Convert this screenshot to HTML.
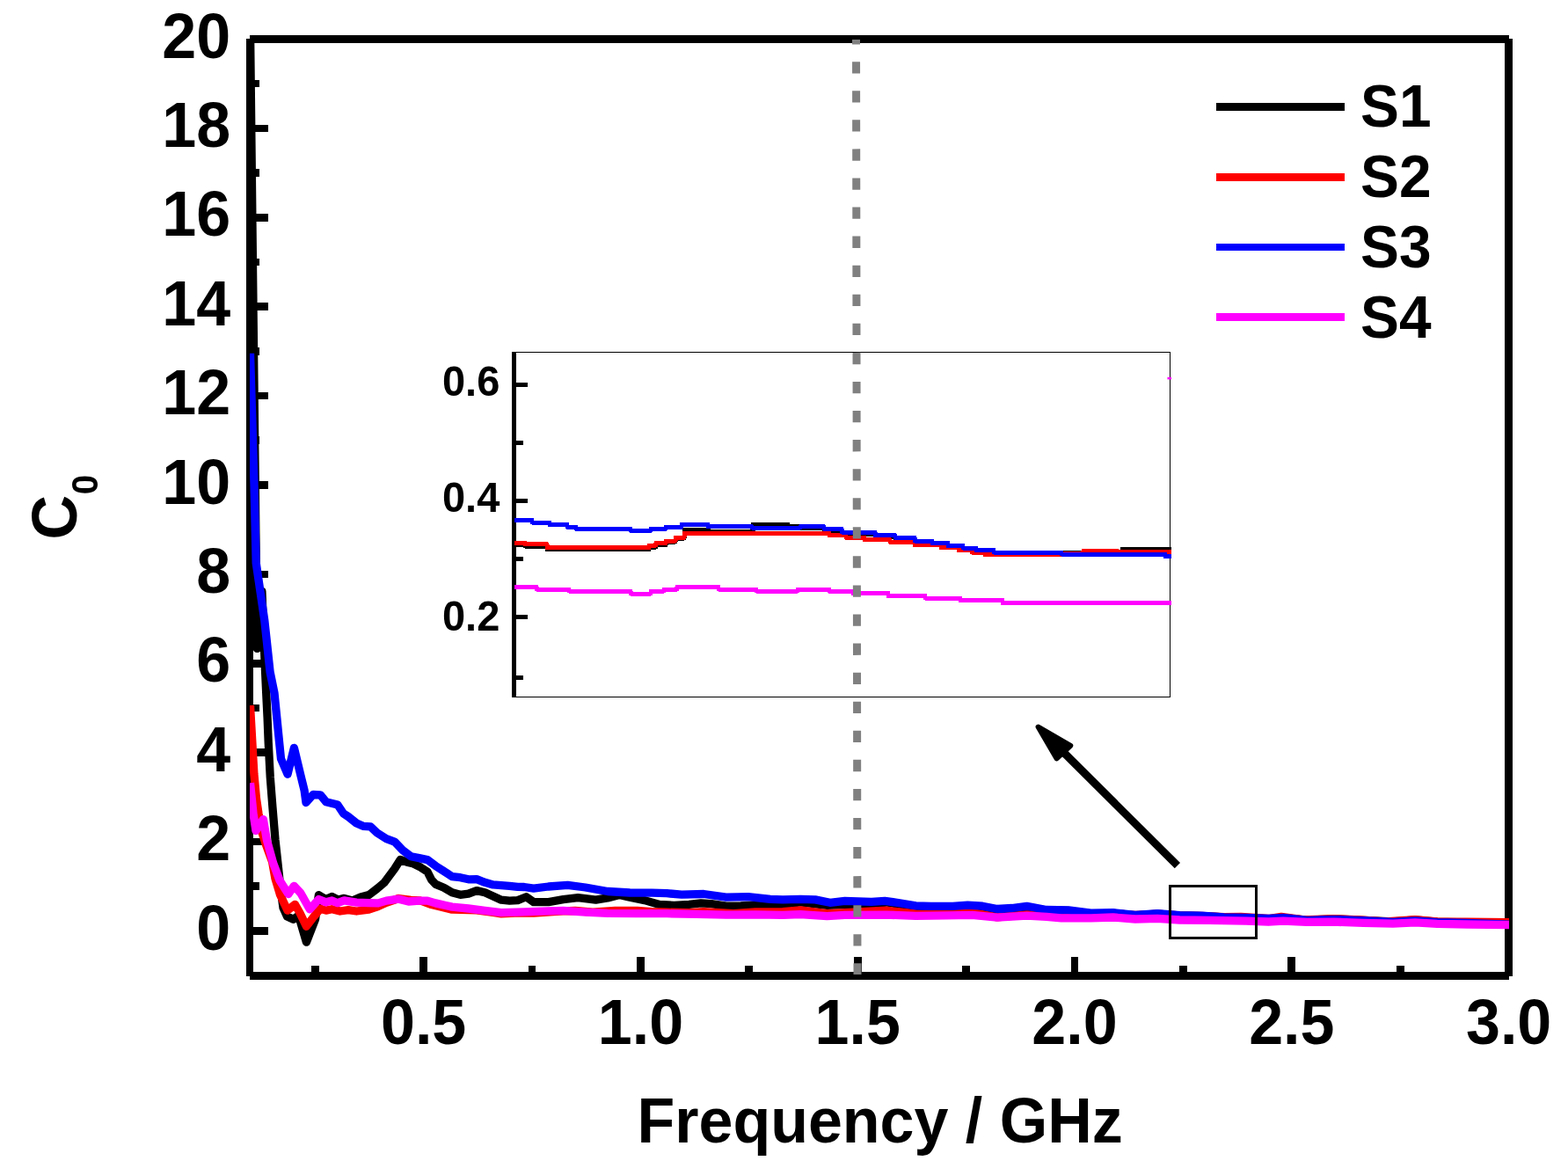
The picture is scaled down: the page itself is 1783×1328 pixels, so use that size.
<!DOCTYPE html>
<html lang="en"><head><meta charset="utf-8"><title>C0 versus Frequency</title>
<style>
html,body{margin:0;padding:0;background:#fff;}
body{width:1783px;height:1328px;overflow:hidden;}
svg{display:block;}
text{font-family:"Liberation Sans", Arial, Helvetica, sans-serif;font-weight:bold;fill:#000;}
.t{font-size:70px;}
.lg{font-size:65.8px;}
.in{font-size:47px;}
</style></head><body>
<svg width="1783" height="1328" viewBox="0 0 1783 1328">
<rect x="0" y="0" width="1783" height="1328" fill="#ffffff"/>
<defs>
<clipPath id="plot"><rect x="284.0" y="44.3" width="1432.0" height="1065"/></clipPath>
<clipPath id="dclip"><rect x="960" y="45" width="30" height="1063"/></clipPath>
<clipPath id="inset"><rect x="584.6" y="400.2" width="747.5" height="392.1"/></clipPath>
<filter id="soft" x="-5%" y="-5%" width="110%" height="110%"><feGaussianBlur stdDeviation="0.55"/></filter>
</defs>

<g fill="#000" stroke="none" shape-rendering="crispEdges">
<rect x="284.1" y="39.97" width="1431.82" height="8.73"/>
<rect x="284.1" y="1105.05" width="1431.82" height="8.81"/>
<rect x="280.03" y="44.2" width="7.95" height="1065.73"/>
<rect x="1711.09" y="44.18" width="8.81" height="1065.66"/>
<rect x="284" y="1054.10" width="21" height="8.6"/>
<rect x="284" y="1003.40" width="11" height="8.6"/>
<rect x="284" y="952.70" width="21" height="8.6"/>
<rect x="284" y="902.00" width="11" height="8.6"/>
<rect x="284" y="851.30" width="21" height="8.6"/>
<rect x="284" y="800.60" width="11" height="8.6"/>
<rect x="284" y="749.90" width="21" height="8.6"/>
<rect x="284" y="699.20" width="11" height="8.6"/>
<rect x="284" y="648.50" width="21" height="8.6"/>
<rect x="284" y="597.80" width="11" height="8.6"/>
<rect x="284" y="547.10" width="21" height="8.6"/>
<rect x="284" y="496.40" width="11" height="8.6"/>
<rect x="284" y="445.70" width="21" height="8.6"/>
<rect x="284" y="395.00" width="11" height="8.6"/>
<rect x="284" y="344.30" width="21" height="8.6"/>
<rect x="284" y="293.60" width="11" height="8.6"/>
<rect x="284" y="242.90" width="21" height="8.6"/>
<rect x="284" y="192.20" width="11" height="8.6"/>
<rect x="284" y="141.50" width="21" height="8.6"/>
<rect x="284" y="90.80" width="11" height="8.6"/>
<rect x="353.70" y="1098" width="8.8" height="11"/>
<rect x="477.10" y="1088" width="8.8" height="21"/>
<rect x="600.50" y="1098" width="8.8" height="11"/>
<rect x="723.90" y="1088" width="8.8" height="21"/>
<rect x="847.30" y="1098" width="8.8" height="11"/>
<rect x="970.70" y="1088" width="8.8" height="21"/>
<rect x="1094.10" y="1098" width="8.8" height="11"/>
<rect x="1217.50" y="1088" width="8.8" height="21"/>
<rect x="1340.90" y="1098" width="8.8" height="11"/>
<rect x="1464.30" y="1088" width="8.8" height="21"/>
<rect x="1587.70" y="1098" width="8.8" height="11"/>
</g>
<g class="t" text-anchor="end">
<text transform="translate(262.1,1079.5) scale(1,1.04)">0</text>
<text transform="translate(262.1,978.1) scale(1,1.04)">2</text>
<text transform="translate(262.1,876.7) scale(1,1.04)">4</text>
<text transform="translate(262.1,775.3) scale(1,1.04)">6</text>
<text transform="translate(262.1,673.9) scale(1,1.04)">8</text>
<text transform="translate(262.1,572.5) scale(1,1.04)">10</text>
<text transform="translate(262.1,471.1) scale(1,1.04)">12</text>
<text transform="translate(262.1,369.7) scale(1,1.04)">14</text>
<text transform="translate(262.1,268.3) scale(1,1.04)">16</text>
<text transform="translate(262.1,166.9) scale(1,1.04)">18</text>
<text transform="translate(262.1,65.5) scale(1,1.04)">20</text>
</g>
<g class="t" text-anchor="middle">
<text transform="translate(481.6,1187.4) scale(1,1.04)">0.5</text>
<text transform="translate(728.4,1187.4) scale(1,1.04)">1.0</text>
<text transform="translate(975.2,1187.4) scale(1,1.04)">1.5</text>
<text transform="translate(1222.0,1187.4) scale(1,1.04)">2.0</text>
<text transform="translate(1468.8,1187.4) scale(1,1.04)">2.5</text>
<text transform="translate(1715.6,1187.4) scale(1,1.04)">3.0</text>
</g>
<text class="t" transform="translate(1000.6,1299.1) scale(1,1.04)" text-anchor="middle">Frequency / GHz</text>
<text class="t" transform="translate(87.0,613.6) rotate(-90) scale(1,1.04)">C<tspan font-size="40.5" dy="23.4" dx="0.7">0</tspan></text>
<g clip-path="url(#plot)">
<polyline points="284.5,30.0 292.3,737.4 297.9,672.5 301.4,760.0 302.7,788.0 304.1,816.0 305.2,844.0 307.3,884.0 309.9,917.3 313.0,954.7 316.3,985.0 319.0,1010.0 322.0,1032.0 326.5,1042.0 333.5,1045.2 339.5,1041.0 348.4,1071.2 358.5,1045.4 362.4,1017.6 370.4,1022.5 377.4,1019.5 384.4,1023.0 391.4,1021.4 400.7,1024.0 410.0,1020.0 419.4,1017.6 428.7,1010.5 437.0,1003.5 448.7,987.7 455.2,977.4 462.7,980.2 469.2,981.6 476.7,985.2 486.0,991.2 490.7,1000.3 495.4,1005.4 504.7,1009.2 514.0,1014.8 523.4,1017.3 532.7,1016.2 542.0,1012.6 551.4,1014.8 560.7,1019.0 570.0,1023.2 579.4,1024.1 588.7,1023.6 594.0,1021.5 598.4,1019.7 606.8,1025.6 623.7,1025.6 640.5,1022.6 657.3,1020.6 677.5,1023.1 691.0,1020.9 704.4,1017.4 716.2,1020.2 733.0,1023.6 749.9,1028.5 766.7,1029.3 783.5,1028.3 797.0,1026.8 808.7,1027.6 825.6,1030.2 842.4,1030.0 859.2,1029.0 876.0,1030.2 890.0,1028.5 910.0,1026.0 940.5,1029.3 960.7,1028.5 991.0,1027.6 1007.8,1026.0 1024.6,1028.5 1041.4,1031.0 1058.3,1031.5 1083.5,1031.5 1100.3,1030.5 1117.2,1031.5 1134.0,1034.5 1150.8,1033.5 1167.6,1031.5 1190.0,1035.0 1215.2,1035.5 1240.5,1038.8 1265.7,1038.3 1291.0,1040.8 1316.2,1039.2 1341.4,1041.0 1366.7,1041.6 1391.9,1043.0 1417.2,1043.6 1442.4,1044.8 1459.2,1043.6 1486.0,1046.2 1516.7,1044.8 1550.3,1046.5 1584.0,1048.0 1609.2,1045.9 1634.4,1048.2 1668.1,1048.8 1716.0,1049.5" fill="none" stroke="#000000" stroke-width="9.3" stroke-linejoin="round" stroke-linecap="butt" />
<polyline points="284.5,802.0 288.9,880.0 291.5,908.0 294.0,925.0 297.5,945.0 303.0,962.0 309.6,980.0 312.9,998.7 318.5,1017.3 327.0,1035.2 335.4,1028.3 341.0,1038.0 348.4,1053.3 357.0,1042.0 364.3,1033.2 370.8,1035.1 377.4,1033.7 386.7,1036.0 396.0,1034.6 405.4,1036.0 419.4,1034.2 430.0,1030.5 439.3,1026.3 453.3,1021.5 467.3,1023.4 478.0,1024.0 490.7,1028.6 514.0,1034.2 542.0,1034.8 560.7,1037.5 570.0,1038.9 590.0,1037.9 606.8,1038.2 640.0,1035.8 654.0,1035.5 674.0,1037.2 699.4,1035.5 724.6,1035.5 741.4,1036.6 758.3,1037.2 783.5,1037.7 800.3,1036.6 834.0,1038.6 859.2,1036.9 890.0,1036.6 910.2,1034.9 940.5,1038.6 960.7,1037.7 1007.8,1035.2 1041.4,1038.9 1058.3,1039.4 1105.4,1037.7 1134.0,1042.8 1167.6,1039.9 1190.0,1041.0 1215.2,1038.0 1240.5,1039.5 1265.7,1038.5 1291.0,1040.3 1316.2,1039.2 1341.4,1041.0 1366.7,1041.3 1391.9,1042.6 1411.0,1042.4 1442.4,1044.5 1457.0,1042.4 1483.0,1045.8 1516.7,1044.6 1550.3,1046.2 1575.5,1047.8 1609.2,1045.6 1634.4,1047.8 1668.1,1048.2 1716.0,1048.7" fill="none" stroke="#ff0000" stroke-width="9.3" stroke-linejoin="round" stroke-linecap="butt" />
<polyline points="284.5,401.8 289.0,550.0 291.2,640.0 300.8,705.4 307.1,764.0 312.0,788.0 314.8,816.0 317.6,844.0 319.5,862.7 327.0,880.3 334.4,850.3 342.5,884.0 346.1,898.7 348.0,912.5 356.0,903.5 364.3,903.8 370.8,911.7 383.9,915.0 390.4,924.8 396.0,928.5 405.4,936.0 412.9,939.3 421.3,939.8 428.7,946.8 439.3,953.6 448.7,957.1 458.0,966.7 467.3,973.7 476.7,975.6 486.0,977.6 495.4,984.6 504.7,990.5 514.0,996.6 523.4,997.7 532.7,999.8 542.0,999.6 551.4,1003.3 560.7,1005.9 570.0,1006.6 579.4,1007.3 588.7,1008.4 596.0,1008.5 606.8,1010.1 623.7,1008.0 645.5,1006.4 665.7,1009.0 691.0,1013.5 716.2,1015.0 741.4,1015.2 758.3,1015.7 775.1,1017.2 800.3,1016.5 825.6,1020.1 850.8,1019.6 876.0,1022.3 890.0,1022.8 910.2,1022.3 927.0,1022.9 943.8,1026.3 960.7,1024.3 991.0,1025.3 1006.1,1024.3 1024.6,1027.0 1041.4,1029.8 1058.3,1030.3 1083.5,1030.3 1100.3,1029.2 1117.2,1030.2 1134.0,1033.5 1150.8,1032.5 1167.6,1030.3 1190.0,1034.5 1215.2,1034.9 1240.5,1038.2 1265.7,1037.7 1291.0,1040.3 1316.2,1038.6 1341.4,1040.6 1366.7,1041.1 1391.9,1042.8 1417.2,1043.3 1442.4,1044.5 1459.2,1043.3 1486.0,1046.4 1516.7,1045.3 1550.3,1046.7 1584.0,1048.3 1609.2,1047.0 1634.4,1048.7 1668.1,1049.5 1716.0,1051.2" fill="none" stroke="#0000ff" stroke-width="9.3" stroke-linejoin="round" stroke-linecap="butt" />
<polyline points="284.5,890.3 288.0,925.0 291.0,944.5 299.4,931.6 303.3,954.7 310.7,981.5 318.0,1001.0 327.9,1016.5 334.4,1007.3 341.9,1015.5 352.2,1033.8 362.4,1022.5 370.8,1025.8 377.4,1023.9 383.9,1026.7 391.4,1023.9 405.4,1026.2 419.4,1026.7 430.0,1026.9 439.3,1024.1 453.3,1022.2 464.5,1025.0 476.7,1024.1 486.0,1024.1 495.4,1026.9 514.0,1031.1 532.7,1033.0 551.4,1035.3 570.0,1037.6 596.0,1036.9 623.7,1035.9 640.5,1035.4 665.7,1037.1 691.0,1038.4 724.6,1038.7 758.3,1038.7 791.9,1039.3 825.6,1040.1 859.2,1039.8 890.0,1040.3 910.2,1039.6 940.5,1041.6 960.7,1040.3 1007.8,1040.1 1041.4,1041.4 1075.1,1040.9 1105.4,1040.3 1134.0,1043.1 1167.6,1041.1 1190.0,1042.3 1206.8,1043.8 1240.5,1043.8 1265.7,1043.0 1291.0,1045.0 1316.2,1044.3 1341.4,1046.0 1375.1,1046.3 1417.2,1047.2 1442.4,1048.0 1459.2,1047.2 1486.0,1048.4 1516.7,1048.2 1550.3,1049.3 1584.0,1050.2 1609.2,1048.8 1634.4,1050.4 1668.1,1051.0 1716.0,1051.7" fill="none" stroke="#ff00ff" stroke-width="9.3" stroke-linejoin="round" stroke-linecap="butt" />
</g>
<line x1="1383" y1="121.4" x2="1529.3" y2="121.4" stroke="#000000" stroke-width="8.8" shape-rendering="crispEdges"/>
<text class="lg" transform="translate(1547,144.3) scale(1,1.04)">S1</text>
<line x1="1383" y1="201.2" x2="1529.3" y2="201.2" stroke="#ff0000" stroke-width="8.8" shape-rendering="crispEdges"/>
<text class="lg" transform="translate(1547,224.1) scale(1,1.04)">S2</text>
<line x1="1383" y1="280.9" x2="1529.3" y2="280.9" stroke="#0000ff" stroke-width="8.8" shape-rendering="crispEdges"/>
<text class="lg" transform="translate(1547,303.8) scale(1,1.04)">S3</text>
<line x1="1383" y1="360.6" x2="1529.3" y2="360.6" stroke="#ff00ff" stroke-width="8.8" shape-rendering="crispEdges"/>
<text class="lg" transform="translate(1547,383.5) scale(1,1.04)">S4</text>
<rect x="584.8" y="400.2" width="745.7" height="392.1" fill="#fff" stroke="none"/>
<g stroke="#000" fill="none" shape-rendering="crispEdges">
<polyline points="584.8,400.2 1330.5,400.2 1330.5,792.3 584.8,792.3" stroke-width="1.1"/>
</g>
<g fill="#000" stroke="none" shape-rendering="crispEdges">
<rect x="582.07" y="399.6" width="5.03" height="393.3"/>
<rect x="584" y="434.95" width="16.3" height="5.1"/>
<rect x="584" y="501.05" width="11.0" height="5.1"/>
<rect x="584" y="567.05" width="16.3" height="5.1"/>
<rect x="584" y="633.05" width="11.0" height="5.1"/>
<rect x="584" y="698.95" width="16.3" height="5.1"/>
<rect x="584" y="767.65" width="11.0" height="5.1"/>
</g>
<g clip-path="url(#inset)">
<polyline points="585.0,619.0 597.0,619.0 597.0,621.0 622.0,621.0 622.0,624.8 738.0,624.8 738.0,622.0 746.0,622.0 746.0,619.5 757.0,619.5 757.0,616.0 768.0,616.0 768.0,612.0 778.0,612.0 778.0,602.8 806.0,602.8 806.0,604.0 856.0,604.0 856.0,596.0 896.0,596.0 896.0,598.0 912.0,598.0 912.0,600.5 937.0,600.5 937.0,603.5 957.0,603.5 957.0,607.0 995.0,607.0 995.0,610.0 1018.0,610.0 1018.0,613.0 1040.0,613.0 1040.0,616.5 1060.0,616.5 1060.0,619.0 1078.0,619.0 1078.0,622.0 1095.0,622.0 1095.0,624.5 1110.0,624.5 1110.0,627.0 1130.0,627.0 1130.0,629.5 1207.0,629.5 1207.0,628.0 1276.0,628.0 1276.0,624.3 1332.0,624.3" fill="none" stroke="#000000" stroke-width="5" stroke-linejoin="round" stroke-linecap="butt" shape-rendering="crispEdges"/>
<polyline points="585.0,617.0 597.0,617.0 597.0,618.8 622.0,618.8 622.0,622.5 738.0,622.5 738.0,620.0 746.0,620.0 746.0,617.5 757.0,617.5 757.0,615.0 768.0,615.0 768.0,611.3 778.0,611.3 778.0,606.3 943.0,606.3 943.0,608.8 962.0,608.8 962.0,611.3 983.0,611.3 983.0,613.8 1012.0,613.8 1012.0,616.3 1040.0,616.3 1040.0,619.5 1070.0,619.5 1070.0,622.5 1090.0,622.5 1090.0,625.5 1105.0,625.5 1105.0,628.0 1120.0,628.0 1120.0,630.5 1205.0,630.5 1205.0,629.0 1232.0,629.0 1232.0,626.5 1270.0,626.5 1270.0,627.5 1332.0,627.5" fill="none" stroke="#ff0000" stroke-width="5" stroke-linejoin="round" stroke-linecap="butt" shape-rendering="crispEdges"/>
<polyline points="585.0,591.5 605.0,591.5 605.0,594.0 625.0,594.0 625.0,596.5 645.0,596.5 645.0,599.3 655.0,599.3 655.0,601.3 717.0,601.3 717.0,603.3 740.0,603.3 740.0,601.3 757.0,601.3 757.0,599.3 775.0,599.3 775.0,596.3 805.0,596.3 805.0,598.8 855.0,598.8 855.0,600.0 910.0,600.0 910.0,598.8 937.0,598.8 937.0,601.3 957.0,601.3 957.0,605.0 995.0,605.0 995.0,608.8 1018.0,608.8 1018.0,611.3 1040.0,611.3 1040.0,615.0 1060.0,615.0 1060.0,617.5 1078.0,617.5 1078.0,620.5 1095.0,620.5 1095.0,623.0 1110.0,623.0 1110.0,625.5 1130.0,625.5 1130.0,628.0 1207.0,628.0 1207.0,630.0 1325.0,630.0 1325.0,632.5 1332.0,632.5" fill="none" stroke="#0000ff" stroke-width="5" stroke-linejoin="round" stroke-linecap="butt" shape-rendering="crispEdges"/>
<polyline points="585.0,667.0 610.0,667.0 610.0,670.0 647.0,670.0 647.0,672.0 717.0,672.0 717.0,675.0 740.0,675.0 740.0,672.0 755.0,672.0 755.0,670.0 770.0,670.0 770.0,667.5 817.0,667.5 817.0,670.0 860.0,670.0 860.0,672.0 907.0,672.0 907.0,670.0 943.0,670.0 943.0,672.3 970.0,672.3 970.0,674.5 1010.0,674.5 1010.0,677.5 1052.0,677.5 1052.0,680.0 1092.0,680.0 1092.0,682.5 1140.0,682.5 1140.0,685.5 1332.0,685.5" fill="none" stroke="#ff00ff" stroke-width="5" stroke-linejoin="round" stroke-linecap="butt" shape-rendering="crispEdges"/>
<rect x="1327.5" y="428.8" width="4.6" height="2.6" fill="#ff00ff"/>
</g>
<g filter="url(#soft)">
<text class="in" transform="translate(568.3,450.3) scale(1,1.04)" text-anchor="end">0.6</text>
<text class="in" transform="translate(568.3,582.4) scale(1,1.04)" text-anchor="end">0.4</text>
<text class="in" transform="translate(568.3,717.0) scale(1,1.04)" text-anchor="end">0.2</text>
</g>
<line x1="973.5" y1="37.1" x2="975.0" y2="1109.0" stroke="#808080" stroke-width="9" stroke-dasharray="13.3 19.77" clip-path="url(#dclip)"/>
<rect x="1330.8" y="1007.3" width="97.8" height="58.9" fill="none" stroke="#000" stroke-width="3" shape-rendering="crispEdges"/>
<g stroke="#000" fill="#000" stroke-linejoin="round">
<line x1="1338.9" y1="984.2" x2="1205" y2="851" stroke-width="8.9"/>
<polygon points="1180.6,826.6 1217.3,847.8 1201.6,862.4" stroke-width="6"/>
</g>
</svg></body></html>
